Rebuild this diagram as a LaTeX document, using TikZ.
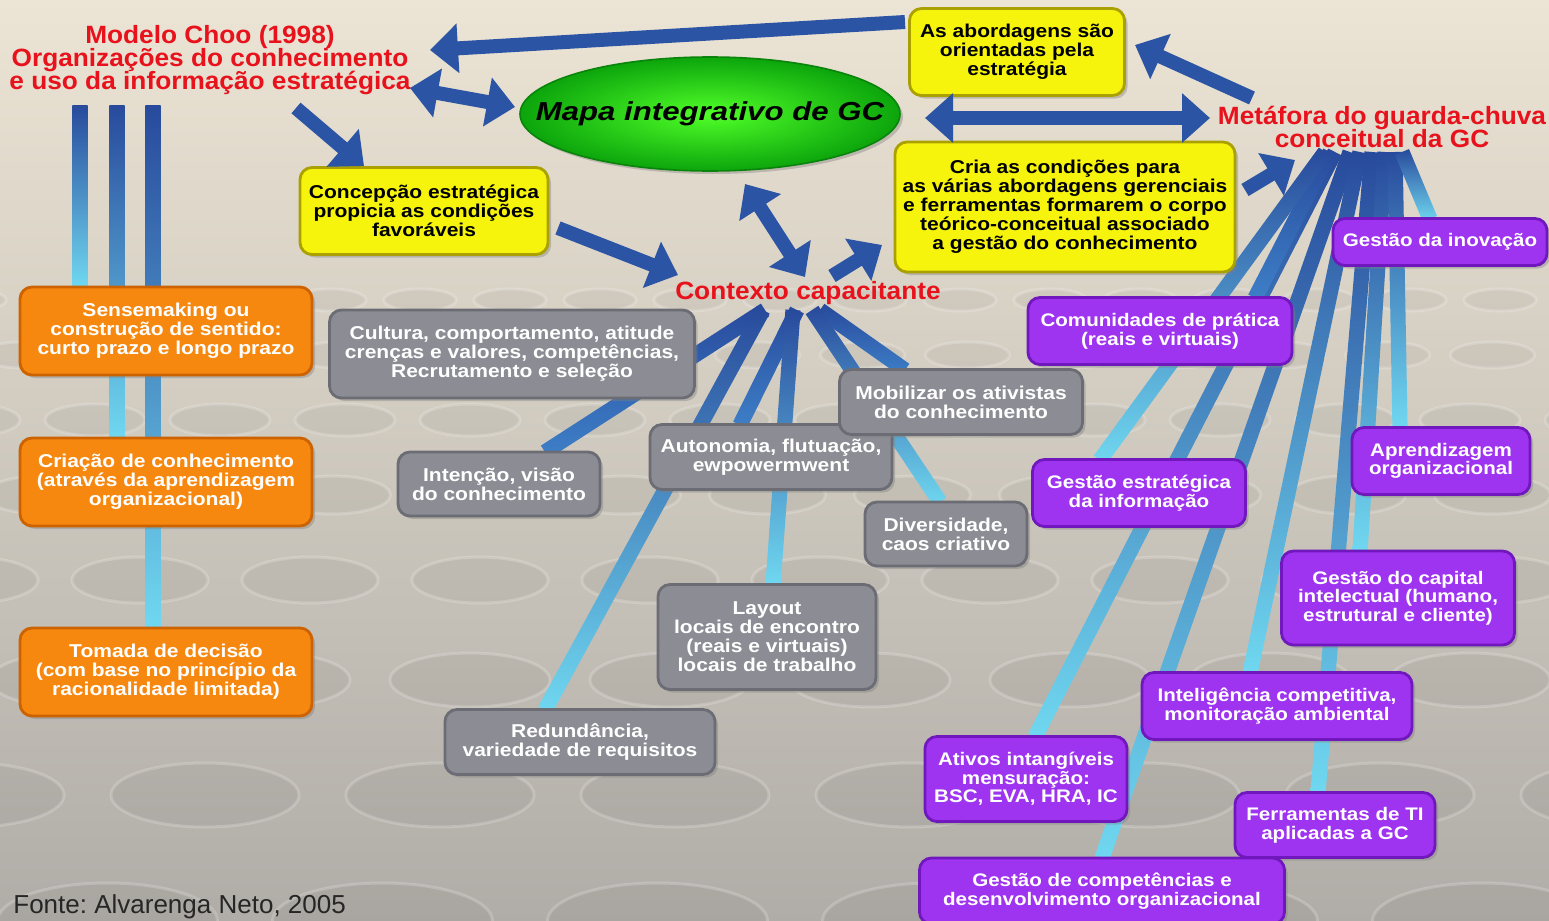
\documentclass[tikz,border=0pt]{standalone}
\usepackage{fontspec}
\setmainfont{Liberation Sans}
\newfontfamily\boxsf{Liberation Sans}[FakeStretch=1.13]
\newfontfamily\titsf{Liberation Sans}[FakeStretch=1.05]
\newfontfamily\mapsf{Liberation Sans}[FakeStretch=1.2]
\usetikzlibrary{
  shapes.geometric,
  arrows.meta,
  calc,
  shadows
}
\definecolor{bgTop}{RGB}{236,228,212}
\definecolor{bgMid}{RGB}{203,196,184}
\definecolor{bgBot}{RGB}{176,173,168}
\definecolor{titleRed}{RGB}{232,18,28}
\definecolor{boxYellow}{RGB}{246,244,12}
\definecolor{edgeYellow}{RGB}{170,160,0}
\definecolor{boxOrange}{RGB}{246,136,16}
\definecolor{edgeOrange}{RGB}{205,98,0}
\definecolor{boxGray}{RGB}{140,140,148}
\definecolor{edgeGray}{RGB}{108,108,116}
\definecolor{boxPurple}{RGB}{158,52,240}
\definecolor{edgePurple}{RGB}{112,24,190}
\definecolor{mapIn}{RGB}{80,255,40}
\definecolor{mapOut}{RGB}{12,165,12}
\definecolor{arrowBlue}{RGB}{44,84,164}
\definecolor{lineDark}{RGB}{40,74,156}
\definecolor{lineMid}{RGB}{62,128,200}
\definecolor{lineLight}{RGB}{112,216,240}
\newcommand{\tightlines}{\lineskiplimit=-20pt\relax}
\pgfdeclarelayer{bg}
\pgfdeclarelayer{conn}
\pgfsetlayers{bg,conn,main}
\tikzset{
  bigtip/.tip={Triangle[length=14pt,width=24pt]},
  blockarrow/.style={draw=arrowBlue,line width=7pt,-bigtip},
  blockboth/.style={draw=arrowBlue,line width=7pt,bigtip-bigtip},
  box/.style={rectangle,rounded corners=6pt,align=center,inner sep=2pt,line width=1.4pt,drop shadow={shadow xshift=1.5pt,shadow yshift=-1.5pt,opacity=0.4}},
  ybox/.style={box,fill=boxYellow,draw=edgeYellow,text=black,font=\boxsf\fontsize{9.3}{9.5}\selectfont\bfseries},
  obox/.style={box,fill=boxOrange,draw=edgeOrange,text=white,font=\boxsf\fontsize{9.3}{9.5}\selectfont\bfseries},
  gbox/.style={box,fill=boxGray,draw=edgeGray,text=white,font=\boxsf\fontsize{9.3}{9.5}\selectfont\bfseries},
  pbox/.style={box,fill=boxPurple,draw=edgePurple,text=white,font=\boxsf\fontsize{9.1}{9.3}\selectfont\bfseries},
  redtitle/.style={text=titleRed,align=center,inner sep=1pt,font=\titsf\fontsize{12.5}{11.5}\selectfont\bfseries\tightlines},
  disc/.style={draw=white,draw opacity=0.2,line width=1.5pt,fill=black,fill opacity=0.04}
}
\newcommand{\fanline}[3][lineLight]{%
  \path #2 coordinate (ga) #3 coordinate (gb);
  \shade[top color=lineDark,bottom color=#1]
    ($(ga)!3.8pt!90:(gb)$) -- ($(ga)!3.8pt!-90:(gb)$) --
    ($(gb)!3.8pt!90:(ga)$) -- ($(gb)!3.8pt!-90:(ga)$) -- cycle;}

\begin{document}
\begin{tikzpicture}[x=0.5pt,y=-0.5pt]
	\useasboundingbox (0,0) rectangle (1549,921);
		\node[redtitle] (1) at (210,60) {Modelo Choo (1998)\\Organizações do conhecimento\\e uso da informação estratégica};
		\node[ellipse,minimum width=190pt,minimum height=57pt,inner sep=0pt,inner color=mapIn,outer color=mapOut,draw=mapOut!80!black,line width=0.8pt,drop shadow={shadow xshift=1.5pt,shadow yshift=-1.5pt,opacity=0.4},font=\mapsf\fontsize{13}{13}\selectfont\bfseries\itshape] (2) at (710,114) {\makebox[0pt]{Mapa integrativo de GC}};
		\node[ybox,minimum width=107.5pt,minimum height=43.5pt] (3) at (1017,52) {As abordagens são\\orientadas pela\\estratégia};
		\node[ybox,minimum width=124pt,minimum height=43.5pt] (4) at (424,211) {Concepção estratégica\\propicia as condições\\favoráveis};
		\node[ybox,minimum width=170pt,minimum height=65pt] (5) at (1065,207) {Cria as condições para\\as várias abordagens gerenciais\\e ferramentas formarem o corpo\\teórico-conceitual associado\\a gestão do conhecimento};
		\node[redtitle] (6) at (808,293) {Contexto capacitante};
		\node[redtitle] (7) at (1382,127) {Metáfora do guarda-chuva\\conceitual da GC};
		\node[obox,minimum width=146pt,minimum height=44pt] (8) at (166,331) {Sensemaking ou\\construção de sentido:\\curto prazo e longo prazo};
		\node[obox,minimum width=146pt,minimum height=44pt] (9) at (166,482) {Criação de conhecimento\\(através da aprendizagem\\organizacional)};
		\node[obox,minimum width=146pt,minimum height=44pt] (10) at (166,672) {Tomada de decisão\\(com base no princípio da\\racionalidade limitada)};
		\node[gbox,minimum width=182.5pt,minimum height=44pt] (11) at (512,354) {Cultura, comportamento, atitude\\crenças e valores, competências,\\Recrutamento e seleção};
		\node[gbox,minimum width=101pt,minimum height=32pt] (12) at (499,484) {Intenção, visão\\do conhecimento};
		\node[gbox,minimum width=121pt,minimum height=32.5pt] (13) at (771,457) {Autonomia, flutuação,\\ewpowermwent};
		\node[gbox,minimum width=121.5pt,minimum height=32.5pt] (14) at (961,402) {Mobilizar os ativistas\\do conhecimento};
		\node[gbox,minimum width=81pt,minimum height=32pt] (15) at (946,534) {Diversidade,\\caos criativo};
		\node[gbox,minimum width=109pt,minimum height=52.5pt] (16) at (767,637) {Layout\\locais de encontro\\(reais e virtuais)\\locais de trabalho};
		\node[gbox,minimum width=135pt,minimum height=32.5pt] (17) at (580,742) {Redundância,\\variedade de requisitos};
		\node[pbox,minimum width=107pt,minimum height=23.5pt] (18) at (1440,242) {Gestão da inovação};
		\node[pbox,minimum width=132pt,minimum height=33.5pt] (19) at (1160,331) {Comunidades de prática\\(reais e virtuais)};
		\node[pbox,minimum width=89pt,minimum height=33.5pt] (20) at (1441,461) {Aprendizagem\\organizacional};
		\node[pbox,minimum width=106.5pt,minimum height=33.5pt] (21) at (1139,493) {Gestão estratégica\\da informação};
		\node[pbox,minimum width=116.5pt,minimum height=47pt] (22) at (1398,598) {Gestão do capital\\intelectual (humano,\\estrutural e cliente)};
		\node[pbox,minimum width=135pt,minimum height=33.5pt] (23) at (1277,706) {Inteligência competitiva,\\monitoração ambiental};
		\node[pbox,minimum width=101pt,minimum height=42.5pt] (24) at (1026,779) {Ativos intangíveis\\mensuração:\\BSC, EVA, HRA, IC};
		\node[pbox,minimum width=100pt,minimum height=32.5pt] (25) at (1335,825) {Ferramentas de TI\\aplicadas a GC};
		\node[pbox,minimum width=182.5pt,minimum height=33pt] (26) at (1102,891) {Gestão de competências e\\desenvolvimento organizacional};
		\node[anchor=base west,inner sep=0pt,text=black!85,font=\fontsize{13}{13}\selectfont] (27) at (13,913) {Fonte:\ Alvarenga Neto, 2005};

	\begin{pgfonlayer}{bg}
		\shade[top color=bgTop,middle color=bgMid,bottom color=bgBot] (0,0) rectangle (1549,921);
		\foreach \yy/\rx/\ry/\off in {300/36/11/0,355/42/13/1,420/50/16/0,495/58/19/1,580/68/23/0,680/80/27/1,795/94/32/0,921/110/38/1}{
			\pgfmathsetmacro\sp{2.5*\rx}
			\foreach \k in {0,...,20}{
				\pgfmathsetmacro\xx{\k*\sp+\off*\sp/2-30}
				\draw[disc] (\xx,\yy) ellipse [x radius=\rx*0.5pt,y radius=\ry*0.5pt];
			}
		}
	\end{pgfonlayer}

	\begin{pgfonlayer}{conn}
		\fanline{($(1.center)+(-130,45)$)}{($(8.center)+(-86,-44)$)}
		\fanline{($(1.center)+(-93,45)$)}{($(9.center)+(-49,-44)$)}
		\fanline{($(1.center)+(-57,45)$)}{($(10.center)+(-13,-44)$)}
		\fanline[lineMid]{($(6.center)+(-43,17)$)}{($(12.center)+(46,-32)$)}
		\fanline{($(6.center)+(-45,17)$)}{($(17.center)+(-35,-32)$)}
		\fanline[lineMid]{($(6.center)+(-11,17)$)}{($(13.center)+(-31,-32)$)}
		\fanline{($(6.center)+(-15,17)$)}{($(16.center)+(6,-52)$)}
		\fanline[lineMid]{($(6.center)+(12,17)$)}{($(14.center)+(-56,-32)$)}
		\fanline{($(6.center)+(4,17)$)}{($(15.center)+(-6,-32)$)}
		\fanline{($(7.center)+(-47,25)$)}{($(24.center)+(9,-42)$)}
		\fanline{($(7.center)+(-32,25)$)}{($(26.center)+(0,-33)$)}
		\fanline{($(7.center)+(-22,25)$)}{($(23.center)+(-27,-33)$)}
		\fanline{($(7.center)+(-10,25)$)}{($(25.center)+(-17,-33)$)}
		\fanline{($(7.center)+(3,25)$)}{($(22.center)+(-38,-47)$)}
		\fanline{($(7.center)+(13,25)$)}{($(20.center)+(-41,-33)$)}
		\fanline{($(7.center)+(20,25)$)}{($(18.center)+(-10,-23)$)}
		\fanline[lineMid]{($(7.center)+(-52,25)$)}{($(19.center)+(95,-33)$)}
		\fanline{($(7.center)+(-57,25)$)}{($(21.center)+(-39,-33)$)}
	\end{pgfonlayer}

		\draw[blockarrow] ($(3.center)+(-112,-30)$) -- ($(1.center)+(220,-10)$);
		\draw[blockboth] ($(1.center)+(200,28)$) -- ($(2.center)+(-195,-7)$);
		\draw[blockarrow] ($(1.center)+(86,48)$) -- ($(4.center)+(-60,-45)$);
		\draw[blockarrow] ($(4.center)+(134,17)$) -- ($(6.center)+(-130,-18)$);
		\draw[blockboth] ($(2.center)+(35,70)$) -- ($(6.center)+(-3,-16)$);
		\draw[blockarrow] ($(6.center)+(24,-17)$) -- ($(5.center)+(-183,38)$);
		\draw[blockboth] ($(5.center)+(-140,-89)$) -- ($(7.center)+(-172,-9)$);
		\draw[blockarrow] ($(7.center)+(-130,-29)$) -- ($(3.center)+(118,-7)$);
		\draw[blockarrow] ($(5.center)+(180,-17)$) -- ($(7.center)+(-87,33)$);
\end{tikzpicture}
\end{document}
